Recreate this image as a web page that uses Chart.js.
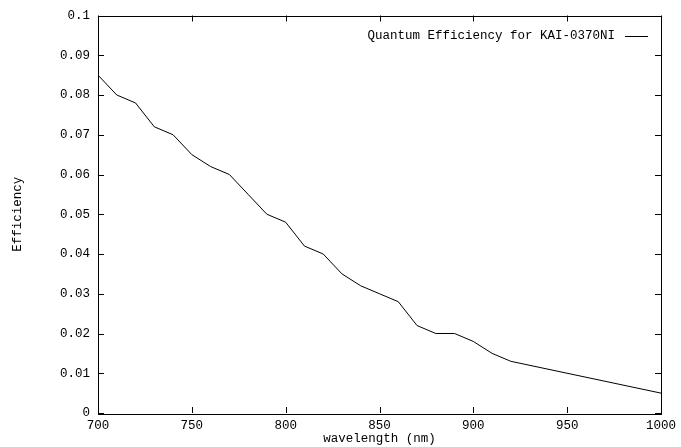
<!DOCTYPE html>
<html>
<head>
<meta charset="utf-8">
<script src="https://cdn.jsdelivr.net/npm/chart.js@4/dist/chart.umd.min.js"></script>
<style>
  html, body { margin: 0; padding: 0; background: #ffffff; }
  #wrap { width: 681px; height: 447px; }
</style>
</head>
<body>
<div id="wrap"><canvas id="c" width="681" height="447"></canvas></div>
<script>
const seriesLabel = 'Quantum Efficiency for KAI-0370NI';
const wavelengths = [700, 710, 720, 730, 740, 750, 760, 770, 780, 790, 800, 810, 820, 830, 840, 850, 860, 870, 880, 890, 900, 910, 920, 1000];
const efficiency  = [0.085, 0.080, 0.078, 0.072, 0.070, 0.065, 0.062, 0.060, 0.055, 0.050, 0.048, 0.042, 0.040, 0.035, 0.032, 0.030, 0.028, 0.022, 0.020, 0.020, 0.018, 0.015, 0.013, 0.005];
const xTitle = 'wavelength (nm)';
const yTitle = 'Efficiency';

const FONT = "'Liberation Mono', 'Courier New', monospace";

const framePlugin = {
  id: 'frame',
  afterDatasetsDraw(chart) {
    const ctx = chart.ctx;
    const a = chart.chartArea;
    const xs = chart.scales.x, ys = chart.scales.y;
    const L = 6;
    ctx.save();
    ctx.strokeStyle = '#000';
    ctx.lineWidth = 1;
    ctx.beginPath();
    xs.ticks.forEach(t => {
      const px = Math.round(xs.getPixelForValue(t.value)) + 0.5;
      ctx.moveTo(px, a.bottom); ctx.lineTo(px, a.bottom - L);
      ctx.moveTo(px, a.top); ctx.lineTo(px, a.top + L);
    });
    ys.ticks.forEach(t => {
      const py = Math.round(ys.getPixelForValue(t.value)) + 0.5;
      ctx.moveTo(a.left, py); ctx.lineTo(a.left + L, py);
      ctx.moveTo(a.right, py); ctx.lineTo(a.right - L, py);
    });
    ctx.stroke();
    ctx.strokeRect(Math.round(a.left) + 0.5, Math.round(a.top) + 0.5, Math.round(a.right - a.left), Math.round(a.bottom - a.top));
    // legend (gnuplot style: text then sample line)
    const ds = chart.data.datasets[0];
    ctx.font = '12.5px ' + FONT;
    ctx.fillStyle = '#000';
    ctx.textAlign = 'right';
    ctx.textBaseline = 'middle';
    const ly = a.top + 20;
    ctx.fillText(ds.label, a.right - 46, ly);
    ctx.beginPath();
    ctx.moveTo(a.right - 36, Math.round(ly) + 0.5);
    ctx.lineTo(a.right - 13, Math.round(ly) + 0.5);
    ctx.stroke();
    ctx.restore();
  }
};

new Chart(document.getElementById('c'), {
  type: 'line',
  data: {
    datasets: [{
      label: seriesLabel,
      data: wavelengths.map((w, i) => ({ x: w, y: efficiency[i] })),
      borderColor: '#000',
      borderWidth: 1,
      pointRadius: 0,
      tension: 0,
      fill: false
    }]
  },
  options: {
    responsive: false,
    animation: false,
    devicePixelRatio: 1,
    layout: { padding: { top: 14, right: 20, left: 0, bottom: 0 } },
    plugins: { legend: { display: false }, tooltip: { enabled: false } },
    scales: {
      x: {
        type: 'linear',
        min: 700, max: 1000,
        grid: { display: false, drawTicks: false },
        border: { display: false },
        ticks: { stepSize: 50, padding: 5, color: '#000', font: { family: FONT, size: 12.5 }, maxRotation: 0,
          callback: v => String(v) },
        title: { display: true, text: xTitle, color: '#000', font: { family: FONT, size: 12.5 }, padding: { top: 0, bottom: 1 } },
        afterFit(s) { s.height = 34; s.paddingRight = 0; }
      },
      y: {
        type: 'linear',
        min: 0, max: 0.1,
        grid: { display: false, drawTicks: false },
        border: { display: false },
        ticks: { stepSize: 0.01, padding: 8, color: '#000', font: { family: FONT, size: 12.5 },
          callback: v => String(+v.toFixed(2)) },
        title: { display: true, text: yTitle, color: '#000', font: { family: FONT, size: 12.5 }, padding: { top: 10, bottom: 0 } },
        afterFit(s) { s.width = 98; }
      }
    }
  },
  plugins: [framePlugin]
});
</script>
</body>
</html>
